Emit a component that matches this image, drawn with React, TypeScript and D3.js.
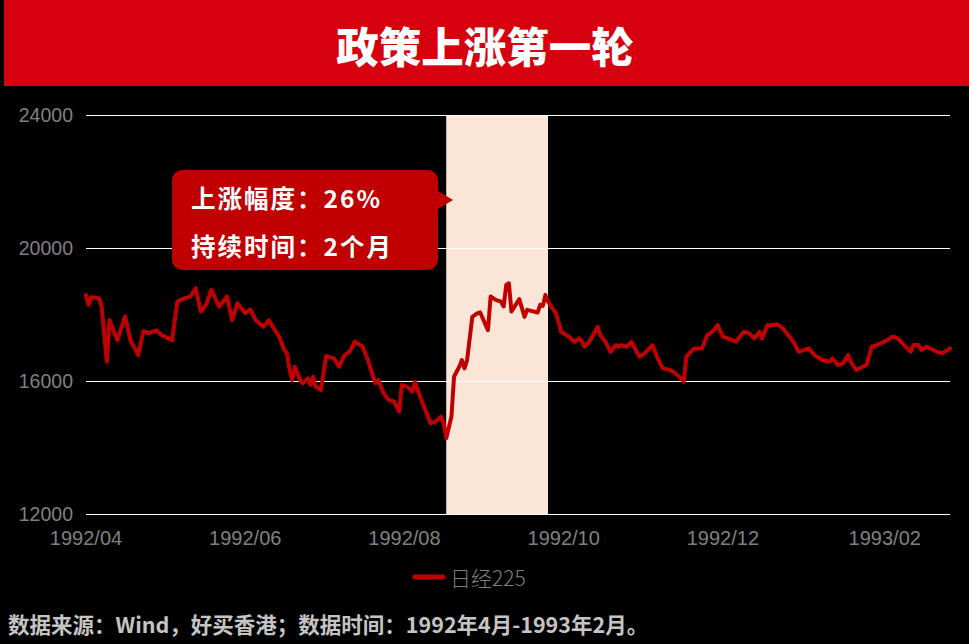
import React from "react";
import * as d3 from "d3";

const title = "政策上涨第一轮";
const seriesName = "日经225";
const footer = "数据来源：Wind，好买香港；数据时间：1992年4月-1993年2月。";
const noteLines = ["上涨幅度：26%", "持续时间：2个月"];
const highlight = ["1992-08-17", "1992-09-25"];
const yTicks = [12000, 16000, 20000, 24000];
const xTicks = ["1992-04-01", "1992-06-01", "1992-08-01", "1992-10-01", "1992-12-01", "1993-02-01"];

const dates = [
  "1992-04-01","1992-04-02","1992-04-03","1992-04-06","1992-04-07","1992-04-09","1992-04-10","1992-04-13","1992-04-16","1992-04-18",
  "1992-04-21","1992-04-23","1992-04-25","1992-04-28","1992-04-30","1992-05-04","1992-05-06","1992-05-09","1992-05-11","1992-05-13",
  "1992-05-15","1992-05-17","1992-05-19","1992-05-22","1992-05-25","1992-05-27","1992-05-29","1992-06-01","1992-06-03","1992-06-05",
  "1992-06-08","1992-06-10","1992-06-12","1992-06-14","1992-06-16","1992-06-17","1992-06-18","1992-06-19","1992-06-20","1992-06-21",
  "1992-06-22","1992-06-23","1992-06-25","1992-06-26","1992-06-27","1992-06-28","1992-06-30","1992-07-02","1992-07-05","1992-07-07",
  "1992-07-09","1992-07-11","1992-07-13","1992-07-16","1992-07-18","1992-07-20","1992-07-21","1992-07-22","1992-07-24","1992-07-26",
  "1992-07-28","1992-07-30","1992-07-31","1992-08-02","1992-08-04","1992-08-05","1992-08-07","1992-08-09","1992-08-11","1992-08-13",
  "1992-08-15","1992-08-16","1992-08-17","1992-08-19","1992-08-20","1992-08-22","1992-08-23","1992-08-24","1992-08-25","1992-08-27",
  "1992-08-29","1992-08-30","1992-09-02","1992-09-03","1992-09-05","1992-09-07","1992-09-08","1992-09-09","1992-09-10","1992-09-11",
  "1992-09-13","1992-09-14","1992-09-16","1992-09-17","1992-09-21","1992-09-22","1992-09-23","1992-09-24","1992-09-25","1992-09-28",
  "1992-09-29","1992-09-30","1992-10-03","1992-10-05","1992-10-07","1992-10-08","1992-10-09","1992-10-11","1992-10-13","1992-10-14",
  "1992-10-15","1992-10-17","1992-10-19","1992-10-21","1992-10-22","1992-10-23","1992-10-25","1992-10-27","1992-10-30","1992-11-01",
  "1992-11-04","1992-11-06","1992-11-08","1992-11-10","1992-11-12","1992-11-14","1992-11-16","1992-11-17","1992-11-20","1992-11-23",
  "1992-11-25","1992-11-27","1992-11-29","1992-12-01","1992-12-03","1992-12-06","1992-12-09","1992-12-11","1992-12-13","1992-12-15",
  "1992-12-16","1992-12-18","1992-12-22","1992-12-24","1992-12-28","1992-12-30","1993-01-03","1993-01-05","1993-01-08","1993-01-11",
  "1993-01-12","1993-01-14","1993-01-16","1993-01-18","1993-01-19","1993-01-21","1993-01-25","1993-01-27","1993-01-29","1993-02-02",
  "1993-02-04","1993-02-06","1993-02-09","1993-02-11","1993-02-12","1993-02-14","1993-02-15","1993-02-17","1993-02-21","1993-02-23",
  "1993-02-25","1993-02-26"
];

const values = [
  18590,18290,18520,18490,18235,16580,17830,17230,17940,17230,
  16780,17500,17440,17520,17380,17230,18390,18490,18540,18790,
  18090,18290,18740,18235,18540,17830,18340,18040,18150,17830,
  17630,17830,17580,17330,16930,16830,16330,16030,16430,16230,
  16030,15930,16080,15880,16130,15830,15730,16750,16680,16430,
  16780,16880,17180,17030,16630,16130,15930,16030,15630,15430,
  15380,15080,15880,15830,15680,15980,15530,15130,14730,14780,
  14930,14730,14280,14930,16130,16430,16630,16380,16630,17930,
  18040,18060,17530,18540,18440,18390,18240,18890,18940,18090,
  18340,18460,17930,18140,18060,18290,18260,18590,18390,18040,
  17780,17480,17330,17180,17280,17180,17030,17200,17480,17630,
  17380,17180,16880,17080,17030,17080,17030,17180,16730,16830,
  17080,16680,16380,16350,16280,16150,15980,16730,16980,16980,
  17380,17480,17680,17330,17280,17180,17480,17440,17280,17480,
  17280,17680,17700,17580,17180,16880,16980,16780,16630,16580,
  16680,16480,16530,16780,16580,16330,16480,17030,17080,17230,
  17330,17280,17030,16880,17080,17080,16930,17030,16880,16830,
  16930,16980
];

const W = 969;
const H = 644;
const parse = d3.timeParse("%Y-%m-%d");
const fmt = d3.timeFormat("%Y/%m");
const red = "#C00000";
const axisGray = "#808080";
const font = "'Liberation Sans', Arial, 'Noto Sans CJK SC', sans-serif";
const cjk = "'Noto Sans CJK SC', 'Liberation Sans', sans-serif";

export default function App() {
  const data = dates.map((d, i) => ({ date: parse(d) as Date, value: values[i] }));
  const x = d3
    .scaleTime()
    .domain([data[0].date, data[data.length - 1].date])
    .range([86, 950]);
  const y = d3.scaleLinear().domain([12000, 24000]).range([514, 115]);
  const line = d3
    .line<{ date: Date; value: number }>()
    .x((d) => x(d.date))
    .y((d) => y(d.value))
    .curve(d3.curveLinear);

  const bx0 = x(parse(highlight[0]) as Date);
  const bx1 = x(parse(highlight[1]) as Date);

  const boxX = 172, boxY = 170, boxW = 266, boxH = 100, r = 12;
  const tipX = 453, tipY = 200;
  const calloutPath = [
    `M${boxX + r},${boxY}`,
    `H${boxX + boxW - r}`,
    `Q${boxX + boxW},${boxY} ${boxX + boxW},${boxY + r}`,
    `V${tipY - 9}`,
    `L${tipX},${tipY}`,
    `L${boxX + boxW},${tipY + 9}`,
    `V${boxY + boxH - r}`,
    `Q${boxX + boxW},${boxY + boxH} ${boxX + boxW - r},${boxY + boxH}`,
    `H${boxX + r}`,
    `Q${boxX},${boxY + boxH} ${boxX},${boxY + boxH - r}`,
    `V${boxY + r}`,
    `Q${boxX},${boxY} ${boxX + r},${boxY}`,
    "Z",
  ].join(" ");

  return (
    <svg
      width={W}
      height={H}
      viewBox={`0 0 ${W} ${H}`}
      style={{ position: "absolute", left: 0, top: 0, display: "block" }}
    >
      <rect x={0} y={0} width={W} height={H} fill="#000" />
      <rect x={4} y={0} width={W - 4} height={86} fill="#D6000F" />
      <text
        x={485}
        y={44}
        textAnchor="middle"
        dominantBaseline="central"
        fill="#fff"
        fontFamily={cjk}
        fontWeight={900}
        fontSize={42.5}
      >
        {title}
      </text>

      <rect x={bx0} y={y(24000)} width={bx1 - bx0} height={y(12000) - y(24000)} fill="#FBE5D6" />

      {yTicks.map((t) => (
        <g key={t}>
          <line
            x1={86}
            x2={950}
            y1={Math.round(y(t)) + 0.5}
            y2={Math.round(y(t)) + 0.5}
            stroke="#FFFFFF"
            strokeWidth={1}
            shapeRendering="crispEdges"
          />
          <text
            x={73}
            y={y(t)}
            textAnchor="end"
            dominantBaseline="central"
            fill={axisGray}
            fontFamily={font}
            fontSize={19.5}
          >
            {t}
          </text>
        </g>
      ))}

      {xTicks.map((t) => {
        const d = parse(t) as Date;
        return (
          <text
            key={t}
            x={x(d)}
            y={538}
            textAnchor="middle"
            dominantBaseline="central"
            fill={axisGray}
            fontFamily={font}
            fontSize={20}
          >
            {fmt(d)}
          </text>
        );
      })}

      <path
        d={line(data) || ""}
        fill="none"
        stroke={red}
        strokeWidth={4}
        strokeLinejoin="round"
        strokeLinecap="round"
      />

      <path d={calloutPath} fill={red} />
      {noteLines.map((s, i) => (
        <text
          key={s}
          x={191}
          y={197 + i * 48}
          dominantBaseline="central"
          fill="#fff"
          fontFamily={cjk}
          fontWeight={700}
          fontSize={24.5}
          letterSpacing={2}
        >
          {s}
        </text>
      ))}

      <line x1={415} x2={443} y1={577} y2={577} stroke={red} strokeWidth={5} strokeLinecap="round" />
      <text
        x={450}
        y={577}
        dominantBaseline="central"
        fill={axisGray}
        fontFamily={cjk}
        fontWeight={300}
        fontSize={21}
      >
        {seriesName}
      </text>

      <text
        x={8}
        y={623}
        dominantBaseline="central"
        fill="#C4C4C4"
        fontFamily={cjk}
        fontWeight={700}
        fontSize={21.5}
      >
        {footer}
      </text>
    </svg>
  );
}
